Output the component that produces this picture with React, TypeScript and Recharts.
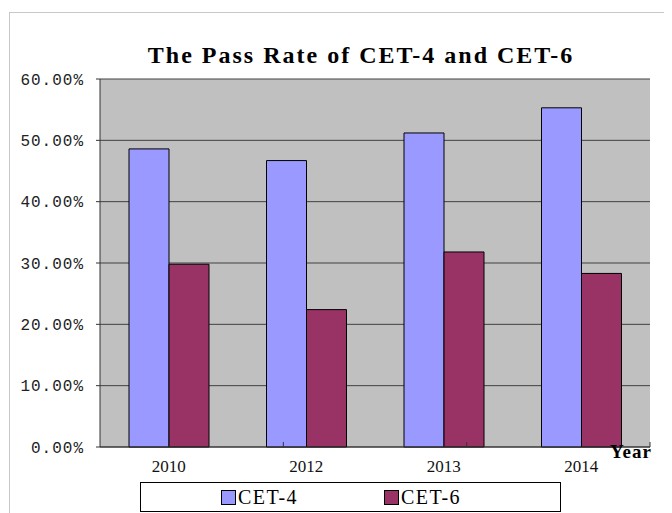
import React from 'react';
import { BarChart, Bar, XAxis, YAxis, CartesianGrid } from 'recharts';

const years = ['2010', '2012', '2013', '2014'];
const cet4 = [0.486, 0.467, 0.512, 0.553];
const cet6 = [0.298, 0.224, 0.318, 0.283];
const yTicks = [0, 0.1, 0.2, 0.3, 0.4, 0.5, 0.6];
const boundaryTicks = [1, 2, 3];

const series = [
  { key: 'cet4', name: 'CET-4', color: '#9999FF' },
  { key: 'cet6', name: 'CET-6', color: '#993366' },
];

const data = years.map((year, i) => ({ year, cet4: cet4[i], cet6: cet6[i] }));

const serif = '"Liberation Serif", "DejaVu Serif", serif';
const mono = '"Liberation Mono", "DejaVu Sans Mono", monospace';

const App: React.FC = () => {
  return (
    <div style={{ position: 'relative', width: 664, height: 505, overflow: 'hidden' }}>
      {/* outer chart frame */}
      <div
        style={{
          position: 'absolute',
          left: 1,
          top: 4,
          width: 700,
          height: 600,
          border: '1px solid #c8c8c8',
        }}
      />
      <div
        style={{
          position: 'absolute',
          left: 0,
          width: 706,
          top: 33,
          textAlign: 'center',
          fontFamily: serif,
          fontWeight: 'bold',
          fontSize: 24,
          letterSpacing: 2,
          color: '#000',
          lineHeight: '28px',
        }}
      >
        The Pass Rate of CET-4 and CET-6
      </div>
      <BarChart
        width={664}
        height={505}
        data={data}
        margin={{ top: 71, right: 22, bottom: 36, left: 0 }}
        barGap={0}
        style={{ position: 'absolute', left: 0, top: 0 }}
      >
        <CartesianGrid vertical={false} fill="#C0C0C0" fillOpacity={1} stroke="#404040" strokeOpacity={1} />
        <XAxis
          xAxisId="bounds"
          type="number"
          domain={[0, 4]}
          ticks={boundaryTicks}
          height={1}
          mirror
          tickSize={5}
          axisLine={false}
          tickLine={{ stroke: '#333' }}
          tickFormatter={() => ''}
        />
        <XAxis
          dataKey="year"
          height={30}
          tickLine={false}
          tickSize={0}
          tickMargin={13}
          axisLine={{ stroke: '#333', strokeWidth: 1 }}
          tick={{ fill: '#111', fontSize: 17, fontFamily: serif }}
        />
        <YAxis
          width={92}
          domain={[0, 0.6]}
          ticks={yTicks}
          tickSize={4}
          tickMargin={12}
          axisLine={{ stroke: '#333' }}
          tickLine={{ stroke: '#333' }}
          tick={{ fill: '#222', fontSize: 16, fontFamily: mono, letterSpacing: 1 }}
          tickFormatter={(v: number) => (v * 100).toFixed(2) + '%'}
        />
        <YAxis
          yAxisId="right"
          orientation="right"
          width={0}
          domain={[0, 0.6]}
          ticks={yTicks}
          tick={false}
          tickLine={false}
          axisLine={{ stroke: '#333' }}
        />
        {series.map((s) => (
          <Bar
            key={s.key}
            dataKey={s.key}
            name={s.name}
            fill={s.color}
            stroke="#000"
            strokeWidth={1}
            barSize={40}
            isAnimationActive={false}
          />
        ))}
      </BarChart>
      <div
        style={{
          position: 'absolute',
          left: 602,
          top: 434,
          fontFamily: serif,
          fontWeight: 'bold',
          fontSize: 19,
          letterSpacing: 1,
          color: '#000',
          lineHeight: '20px',
        }}
      >
        Year
      </div>
      {/* legend */}
      <div
        style={{
          position: 'absolute',
          left: 132,
          top: 474,
          width: 419,
          height: 28,
          border: '1px solid #000',
          background: '#fff',
        }}
      >
        {series.map((s, i) => (
          <div
            key={s.key}
            style={{
              position: 'absolute',
              left: i === 0 ? 80 : 243,
              top: 0,
              height: 28,
              display: 'flex',
              alignItems: 'center',
            }}
          >
            <span
              style={{
                display: 'inline-block',
                width: 13,
                height: 13,
                background: s.color,
                border: '1px solid #000',
                marginRight: 2,
              }}
            />
            <span style={{ fontFamily: serif, fontSize: 20, letterSpacing: 1.5, color: '#000' }}>
              {s.name}
            </span>
          </div>
        ))}
      </div>
    </div>
  );
};

export default App;
